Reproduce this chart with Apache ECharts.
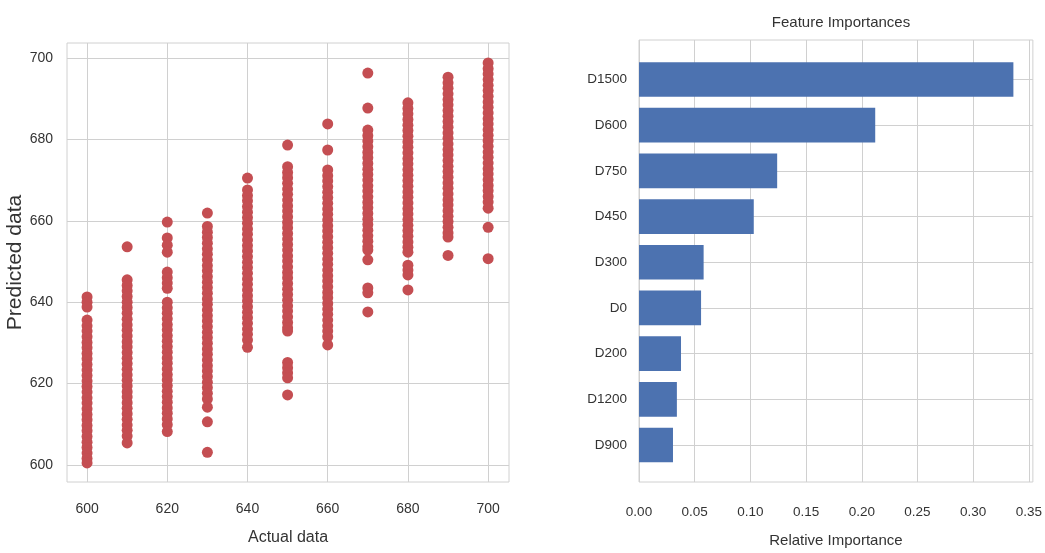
<!DOCTYPE html>
<html>
<head>
<meta charset="utf-8">
<script src="https://cdn.jsdelivr.net/npm/echarts@6/dist/echarts.min.js"></script>
<style>
html,body{margin:0;padding:0;background:#fff;}
#chart{width:1045px;height:553px;}
</style>
</head>
<body>
<div id="chart"></div>
<script>
// ---- Left panel: actual vs predicted (top to bottom per column) ----
const actualLevels = [600, 610, 620, 630, 640, 650, 660, 670, 680, 690, 700];
const pred600 = [641.3, 640.0, 638.8, 635.6, 634.2, 632.9, 631.5, 630.1, 628.8, 627.4, 626.1, 624.7, 623.3, 622.0, 620.6, 619.3, 617.9, 616.5, 615.2, 613.8, 612.4, 611.1, 609.7, 608.4, 607.0, 605.6, 604.3, 602.9, 601.6, 600.5];
const pred610 = [653.6, 645.5, 644.1, 642.8, 641.4, 640.0, 638.7, 637.3, 635.8, 634.4, 633.1, 631.7, 630.3, 629.0, 627.6, 626.2, 624.9, 623.5, 622.1, 620.8, 619.4, 618.0, 616.7, 615.3, 613.9, 612.6, 611.2, 609.8, 608.5, 607.1, 605.4];
const pred620 = [659.7, 655.8, 654.0, 652.3, 647.4, 646.0, 644.7, 643.4, 640.0, 638.6, 637.3, 635.9, 634.5, 633.2, 631.8, 630.4, 629.1, 627.7, 626.3, 625.0, 623.6, 622.2, 620.9, 619.5, 618.1, 616.8, 615.4, 614.0, 612.7, 611.3, 609.9, 608.2];
const pred630 = [661.9, 658.6, 657.2, 655.9, 654.5, 653.1, 651.8, 650.4, 649.0, 647.7, 646.3, 644.9, 643.6, 642.2, 640.8, 639.5, 638.1, 636.7, 635.4, 634.0, 632.6, 631.3, 629.9, 628.5, 627.2, 625.8, 624.4, 623.1, 621.7, 620.3, 619.0, 617.6, 616.2, 614.2, 610.6, 603.1];
const pred640 = [670.5, 667.6, 666.2, 664.9, 663.5, 662.1, 660.8, 659.4, 658.0, 656.7, 655.3, 653.9, 652.6, 651.2, 649.8, 648.5, 647.1, 645.7, 644.4, 643.0, 641.6, 640.3, 638.9, 637.5, 636.2, 634.8, 633.4, 632.1, 630.7, 628.9];
const pred650 = [678.6, 673.3, 671.9, 670.6, 669.2, 667.8, 666.5, 665.1, 663.7, 662.4, 661.0, 659.6, 658.3, 656.9, 655.5, 654.2, 652.8, 651.4, 650.1, 648.7, 647.3, 646.0, 644.6, 643.2, 641.9, 640.5, 639.1, 637.8, 636.4, 635.0, 633.7, 632.9, 625.2, 623.9, 622.6, 621.4, 617.2];
const pred660 = [683.8, 677.4, 672.5, 671.1, 669.8, 668.4, 667.0, 665.7, 664.3, 662.9, 661.6, 660.2, 658.8, 657.5, 656.1, 654.7, 653.4, 652.0, 650.6, 649.3, 647.9, 646.5, 645.2, 643.8, 642.4, 641.1, 639.7, 638.3, 637.0, 635.6, 634.2, 632.9, 631.5, 629.5];
const pred670 = [696.3, 687.7, 682.3, 680.9, 679.6, 678.2, 676.8, 675.5, 674.1, 672.7, 671.4, 670.0, 668.6, 667.3, 665.9, 664.5, 663.2, 661.8, 660.4, 659.1, 657.7, 656.3, 655.0, 653.6, 652.8, 650.4, 643.5, 642.3, 637.6];
const pred680 = [689.0, 687.6, 686.3, 684.9, 683.5, 682.2, 680.8, 679.4, 678.1, 676.7, 675.3, 674.0, 672.6, 671.2, 669.9, 668.5, 667.1, 665.8, 664.4, 663.0, 661.7, 660.3, 658.9, 657.6, 656.2, 654.8, 653.5, 652.3, 649.1, 647.9, 646.7, 643.0];
const pred690 = [695.3, 693.9, 692.6, 691.2, 689.8, 688.5, 687.1, 685.7, 684.4, 683.0, 681.6, 680.3, 678.9, 677.5, 676.2, 674.8, 673.4, 672.1, 670.7, 669.3, 668.0, 666.6, 665.2, 663.9, 662.5, 661.1, 659.8, 658.4, 657.0, 656.0, 651.5];
const pred700 = [698.8, 697.4, 696.1, 694.7, 693.3, 692.0, 690.6, 689.2, 687.9, 686.5, 685.1, 683.8, 682.4, 681.0, 679.7, 678.3, 676.9, 675.6, 674.2, 672.8, 671.5, 670.1, 668.7, 667.4, 666.0, 664.6, 663.1, 658.4, 650.7];
const predictedByLevel = [pred600, pred610, pred620, pred630, pred640, pred650, pred660, pred670, pred680, pred690, pred700];
const leftXTicks = [600, 620, 640, 660, 680, 700];
const leftYTicks = [600, 620, 640, 660, 680, 700];

// ---- Right panel: feature importances ----
const featureNames = ['D1500', 'D600', 'D750', 'D450', 'D300', 'D0', 'D200', 'D1200', 'D900'];
const importances = [0.336, 0.212, 0.124, 0.103, 0.058, 0.0557, 0.0377, 0.034, 0.0305];
const rightXTicks = [0, 0.05, 0.10, 0.15, 0.20, 0.25, 0.30, 0.35];

const scatterData = [];
actualLevels.forEach((a, i) => predictedByLevel[i].forEach(p => scatterData.push([a, p])));

const FONT = "'Liberation Sans', Arial, sans-serif";
const TXT = '#333333';
const GRIDC = '#d0d0d0';

const chart = echarts.init(document.getElementById('chart'), null, {renderer: 'canvas'});
chart.setOption({
  backgroundColor: '#ffffff',
  animation: false,
  title: {
    text: 'Feature Importances',
    left: 836, top: 10, textAlign: 'center',
    textStyle: {fontFamily: FONT, fontSize: 15, fontWeight: 'normal', color: TXT}
  },
  grid: [
    {left: 67, right: 536, top: 43, bottom: 71, show: true, borderColor: GRIDC, borderWidth: 1, containLabel: false},
    {left: 639, right: 12, top: 40, bottom: 71, show: true, borderColor: GRIDC, borderWidth: 1, containLabel: false},
    {left: 639, right: 12, top: 79.5, height: 365.5, show: false, containLabel: false}
  ],
  xAxis: [
    {
      gridIndex: 0, type: 'value', min: 595, max: 705.2,
      name: 'Actual data', nameLocation: 'middle', nameGap: 48,
      nameTextStyle: {fontFamily: FONT, fontSize: 16, color: TXT},
      axisLine: {show: false},
      axisTick: {show: false, customValues: leftXTicks},
      axisLabel: {customValues: leftXTicks, fontFamily: FONT, fontSize: 14, color: TXT, margin: 20},
      splitLine: {show: true, lineStyle: {color: GRIDC, width: 1}}
    },
    {
      gridIndex: 1, type: 'value', min: 0, max: 0.3536,
      name: 'Relative Importance', nameLocation: 'middle', nameGap: 51,
      nameTextStyle: {fontFamily: FONT, fontSize: 15, color: TXT},
      axisLine: {show: false},
      axisTick: {show: false, customValues: rightXTicks},
      axisLabel: {customValues: rightXTicks, fontFamily: FONT, fontSize: 13.5, color: TXT, margin: 23,
        formatter: v => v.toFixed(2)},
      splitLine: {show: true, lineStyle: {color: GRIDC, width: 1}}
    },
    {
      gridIndex: 2, type: 'value', min: 0, max: 0.3536, show: false,
      splitLine: {show: false}
    }
  ],
  yAxis: [
    {
      gridIndex: 0, type: 'value', min: 595.8, max: 703.7,
      name: 'Predicted data', nameLocation: 'middle', nameGap: 35, nameRotate: 90,
      nameTextStyle: {fontFamily: FONT, fontSize: 21, color: TXT},
      axisLine: {show: false},
      axisTick: {show: false, customValues: leftYTicks},
      axisLabel: {customValues: leftYTicks, fontFamily: FONT, fontSize: 14, color: TXT, margin: 14},
      splitLine: {show: true, lineStyle: {color: GRIDC, width: 1}}
    },
    {
      gridIndex: 1, type: 'value', min: 0, max: 1, show: false,
      splitLine: {show: false}
    },
    {
      gridIndex: 2, type: 'category', data: featureNames, inverse: true, boundaryGap: false,
      axisLine: {show: false},
      axisTick: {show: false, interval: 0},
      axisLabel: {interval: 0, fontFamily: FONT, fontSize: 13.5, color: TXT, margin: 12},
      splitLine: {show: true, interval: 0, lineStyle: {color: GRIDC, width: 1}}
    }
  ],
  series: [
    {
      type: 'scatter', xAxisIndex: 0, yAxisIndex: 0,
      data: scatterData, symbol: 'circle', symbolSize: 11,
      itemStyle: {color: '#C44E52', opacity: 1},
      z: 3
    },
    {
      type: 'bar', xAxisIndex: 2, yAxisIndex: 2,
      data: importances, barWidth: '76%', clip: false,
      itemStyle: {color: '#4C72B0'},
      z: 3
    }
  ]
});
</script>
</body>
</html>
